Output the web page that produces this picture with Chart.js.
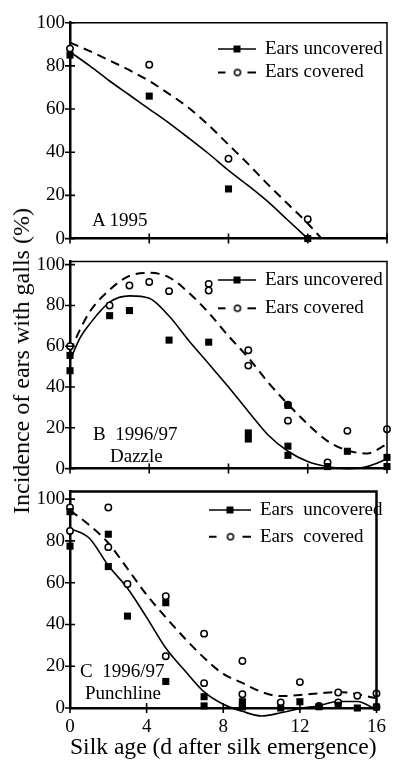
<!DOCTYPE html>
<html><head><meta charset="utf-8">
<script src="https://cdn.jsdelivr.net/npm/chart.js@4/dist/chart.umd.min.js"></script>
<style>
html,body{margin:0;padding:0;background:#fff;}
#wrap{position:relative;width:394px;height:766px;overflow:hidden;font-family:"Liberation Serif",serif;color:#000;background:#fff;}
canvas{position:absolute;left:0;}
.lbl{position:absolute;font-size:19px;line-height:19px;white-space:pre;}
#ytitle{position:absolute;left:21px;top:361px;font-size:24px;line-height:24px;white-space:nowrap;transform:translate(-50%,-50%) rotate(-90deg);}
</style></head><body>
<div id="wrap">
  <canvas id="cA" width="394" height="255" style="top:0px"></canvas>
  <canvas id="cB" width="394" height="240" style="top:245px"></canvas>
  <canvas id="cC" width="394" height="291" style="top:475px"></canvas>
  <div class="lbl" style="left:92px;top:210px">A 1995</div>
  <div class="lbl" style="left:93px;top:424px">B  1996/97</div>
  <div class="lbl" style="left:110px;top:446px">Dazzle</div>
  <div class="lbl" style="left:80px;top:661px">C  1996/97</div>
  <div class="lbl" style="left:85px;top:683px">Punchline</div>
  <div id="ytitle">Incidence of ears with galls (%)</div>
</div>
<script>
// ---------- shared ----------
const xTicks = [0, 4, 8, 12, 16];
const yTicks = [0, 20, 40, 60, 80, 100];
const xTitle = 'Silk age (d after silk emergence)';

// ---------- Panel A 1995 ----------
const aUncovDays = [0, 4, 8, 12];
const aUncovPct  = [85, 66, 23, 0];
const aCovDays   = [0, 4, 8, 12];
const aCovPct    = [88, 80.5, 37, 9];
const aUncovFitDays = [0, 1, 2, 3, 4, 5, 6, 7, 8, 9, 10, 11, 12];
const aUncovFitPct  = [86.5, 80, 73, 66.5, 60, 53.5, 46.5, 39.3, 31.6, 24.5, 17, 8.5, 0];
const aCovFitDays   = [0, 1, 2, 3, 4, 5, 6, 7, 8, 9, 10, 11, 12, 12.7];
const aCovFitPct    = [90.8, 86.8, 82.5, 78, 73, 67, 60.5, 52.5, 43.5, 34.5, 25, 16, 7, 0];
const aNames = ['Ears uncovered', 'Ears covered'];

// ---------- Panel B 1996/97 Dazzle ----------
const bUncovDays = [0, 0, 2, 3, 5, 7, 9, 9, 11, 11, 11, 13, 14, 16, 16];
const bUncovPct  = [55.5, 48, 75, 77.5, 63, 62, 17.5, 14.5, 31, 11, 6.5, 1, 8.5, 5.5, 1];
const bCovDays   = [0, 2, 3, 4, 5, 7, 7, 9, 9, 11, 11, 13, 14, 16];
const bCovPct    = [60, 80, 89.8, 91.5, 87, 90.6, 87.3, 58, 50.5, 31.3, 23.5, 3, 18.5, 19.3];
const bFitDays      = [0, 0.5, 1, 2, 3, 4, 5, 6, 7, 8, 9, 10, 11, 12, 13, 14, 15, 16];
const bUncovFitPct  = [53, 64, 71, 81.6, 84.7, 83.5, 74.8, 62.7, 51.4, 40, 28, 16.5, 8.5, 3.5, 1, 0, 1, 4.7];
const bCovFitPct    = [57.4, 68, 77, 87.7, 94.5, 96, 93.8, 86.2, 76.4, 65, 54.4, 42.3, 31.6, 21.8, 13.5, 8.9, 7.4, 12];
const bNames = ['Ears uncovered', 'Ears covered'];

// ---------- Panel C 1996/97 Punchline ----------
const cUncovDays = [0, 0, 2, 2, 3, 5, 5, 7, 7, 9, 9, 9, 11, 12, 13, 14, 15, 16];
const cUncovPct  = [94, 77.5, 83.2, 67.7, 44, 50.4, 12.7, 5.4, 1, 3, 1.5, 0.5, 0, 3, 0.6, 1.3, 0, 0.5];
const cCovDays   = [0, 0, 2, 2, 3, 5, 5, 7, 7, 9, 9, 11, 12, 13, 14, 14, 15, 16, 16];
const cCovPct    = [96, 84.8, 96, 77, 59.4, 53.5, 24.8, 35.6, 11.9, 22.5, 6.6, 2.7, 12.4, 1, 7.4, 2.6, 5.9, 7, 0.5];
const cFitDays      = [0, 1, 2, 3, 4, 5, 6, 7, 8, 9, 10, 11, 12, 13, 14, 15, 16];
const cUncovFitPct  = [86, 81.4, 68.2, 57.3, 43.4, 28.7, 17.8, 7.7, 1.8, -1.6, -3.8, -2.3, -0.3, 1.1, 3.1, 3.1, -0.8];
const cCovFitPct    = [94.6, 87.6, 79, 66.7, 54.2, 43.4, 33.3, 24, 16.3, 12, 7.7, 5.7, 6.2, 7, 7.7, 6.6, 4.6];
const cNames = ['Ears  uncovered', 'Ears  covered'];

// ---------- helpers ----------
const FONT = "'Liberation Serif', 'DejaVu Serif', serif";
const pts = (xs, ys) => xs.map((x, i) => ({x: x, y: ys[i]}));

function legendImg(kind, w) {
  const c = document.createElement('canvas');
  c.width = w; c.height = 12;
  const g = c.getContext('2d');
  g.strokeStyle = '#000'; g.fillStyle = '#000';
  if (kind === 'solid') {
    g.lineWidth = 1.6;
    g.beginPath(); g.moveTo(0, 6); g.lineTo(w, 6); g.stroke();
    g.fillRect(w / 2 - 3, 2.5, 7, 7);
  } else {
    g.lineWidth = 2;
    g.beginPath(); g.moveTo(0, 6); g.lineTo(8, 6); g.moveTo(w - 8, 6); g.lineTo(w, 6); g.stroke();
    g.beginPath(); g.arc(w / 2 + 1, 6, 3, 0, Math.PI * 2);
    g.fillStyle = '#fff'; g.fill(); g.lineWidth = 1.5; g.stroke();
  }
  return c;
}

const legendPlace = {
  id: 'legendPlace',
  afterLayout(chart, args, o) {
    const lg = chart.legend; if (!lg) return;
    lg.left = o.textX - 9.5 - o.bw - o.pad;
    lg.top = o.firstY - 9.5 - o.pad;
    lg.width = 220; lg.height = 200;
    lg.right = lg.left + 220; lg.bottom = lg.top + 200;
  }
};

const axisMarks = {
  id: 'axisMarks',
  afterDraw(chart, args, o) {
    const {ctx, chartArea: a, scales} = chart;
    const x = scales.x, y = scales.y;
    const y0 = y.getPixelForValue(0);
    ctx.save();
    ctx.strokeStyle = '#000';
    ctx.lineWidth = o.frameW;
    ctx.beginPath();
    ctx.moveTo(a.left, a.top); ctx.lineTo(a.right, a.top); ctx.lineTo(a.right, y0);
    ctx.stroke();
    ctx.lineWidth = 1.6;
    ctx.beginPath();
    yTicks.forEach(v => { const p = y.getPixelForValue(v); ctx.moveTo(a.left - 5, p); ctx.lineTo(a.left + 5, p); });
    xTicks.forEach(v => { const p = x.getPixelForValue(v); ctx.moveTo(p, y0 - 5); ctx.lineTo(p, y0 + 5); });
    ctx.stroke();
    ctx.restore();
  }
};

function makePanel(id, p) {
  const datasets = [
    {label: 'u', data: pts(p.uDays, p.uPct), showLine: false, pointStyle: 'rect', pointRadius: 5,
     backgroundColor: '#000', borderColor: '#000', pointBorderWidth: 0, clip: false},
    {label: 'c', data: pts(p.cDays, p.cPct), showLine: false, pointStyle: 'circle', pointRadius: 3.2,
     backgroundColor: '#fff', borderColor: '#000', pointBorderWidth: 1.5, clip: false},
    {label: p.names[0], data: pts(p.uFitDays, p.uFitPct), showLine: true, pointRadius: 0,
     borderColor: '#000', borderWidth: 1.6, cubicInterpolationMode: 'monotone', fill: false, clip: false},
    {label: p.names[1], data: pts(p.cFitDays, p.cFitPct), showLine: true, pointRadius: 0,
     borderColor: '#000', borderWidth: 2, borderDash: [9, 6], cubicInterpolationMode: 'monotone', fill: false, clip: false}
  ];
  return new Chart(document.getElementById(id), {
    type: 'scatter',
    data: {datasets: datasets},
    plugins: [legendPlace, axisMarks],
    options: {
      responsive: false, animation: false, events: [],
      layout: {padding: {left: 0, right: 7, top: p.padTop, bottom: p.padBottom}},
      scales: {
        x: {type: 'linear', min: 0, max: 16,
            afterBuildTicks: s => { s.ticks = xTicks.map(v => ({value: v})); },
            grid: {display: false, drawTicks: false},
            border: {display: true, color: '#000', width: 2.5},
            ticks: {display: p.showX, color: '#000', font: {family: FONT, size: 19}, padding: 8, maxRotation: 0},
            title: {display: p.showX, text: xTitle, color: '#000', font: {family: FONT, size: 24}, padding: {top: 0, bottom: 3.6}},
            afterFit: s => { s.height = p.xH; }},
        y: {type: 'linear', min: 0, max: p.yMax,
            afterBuildTicks: s => { s.ticks = yTicks.map(v => ({value: v})); },
            grid: {display: false, drawTicks: false},
            border: {display: true, color: '#000', width: 2.5},
            ticks: {color: '#000', font: {family: FONT, size: 19}, padding: 5},
            afterFit: s => { s.width = 70; }}
      },
      plugins: {
        tooltip: {enabled: false},
        legend: {display: true, position: 'chartArea', align: 'start',
          labels: {usePointStyle: true, pointStyleWidth: p.bw, boxHeight: 19, color: '#000',
            font: {family: FONT, size: 19}, padding: p.lgPad,
            generateLabels: () => [
              {text: p.names[0], pointStyle: legendImg('solid', p.bw), fillStyle: '#000', strokeStyle: '#000', lineWidth: 0, hidden: false, datasetIndex: 2, fontColor: '#000'},
              {text: p.names[1], pointStyle: legendImg('dash', p.bw), fillStyle: '#fff', strokeStyle: '#000', lineWidth: 0, hidden: false, datasetIndex: 3, fontColor: '#000'}
            ]}},
        legendPlace: {textX: p.textX, firstY: p.firstY, bw: p.bw, pad: p.lgPad},
        axisMarks: {frameW: p.frameW}
      }
    }
  });
}

makePanel('cA', {uDays: aUncovDays, uPct: aUncovPct, cDays: aCovDays, cPct: aCovPct,
  uFitDays: aUncovFitDays, uFitPct: aUncovFitPct, cFitDays: aCovFitDays, cFitPct: aCovFitPct,
  names: aNames, padTop: 22.7, padBottom: 7.3, xH: 0, showX: false, yMax: 100,
  textX: 265, firstY: 49, bw: 38, lgPad: 4.5, frameW: 1.5});

makePanel('cB', {uDays: bUncovDays, uPct: bUncovPct, cDays: bCovDays, cPct: bCovPct,
  uFitDays: bFitDays, uFitPct: bUncovFitPct, cFitDays: bFitDays, cFitPct: bCovFitPct,
  names: bNames, padTop: 8, padBottom: 8.5, xH: 0, showX: false, yMax: 101.6,
  textX: 265, firstY: 35, bw: 38, lgPad: 9.3, frameW: 1.5});

makePanel('cC', {uDays: cUncovDays, uPct: cUncovPct, cDays: cCovDays, cPct: cCovPct,
  uFitDays: cFitDays, uFitPct: cUncovFitPct, cFitDays: cFitDays, cFitPct: cCovFitPct,
  names: cNames, padTop: 10, padBottom: 0, xH: 58, showX: true, yMax: 103.7,
  textX: 260, firstY: 35, bw: 42, lgPad: 7.7, frameW: 2.5});
</script>
</body></html>
